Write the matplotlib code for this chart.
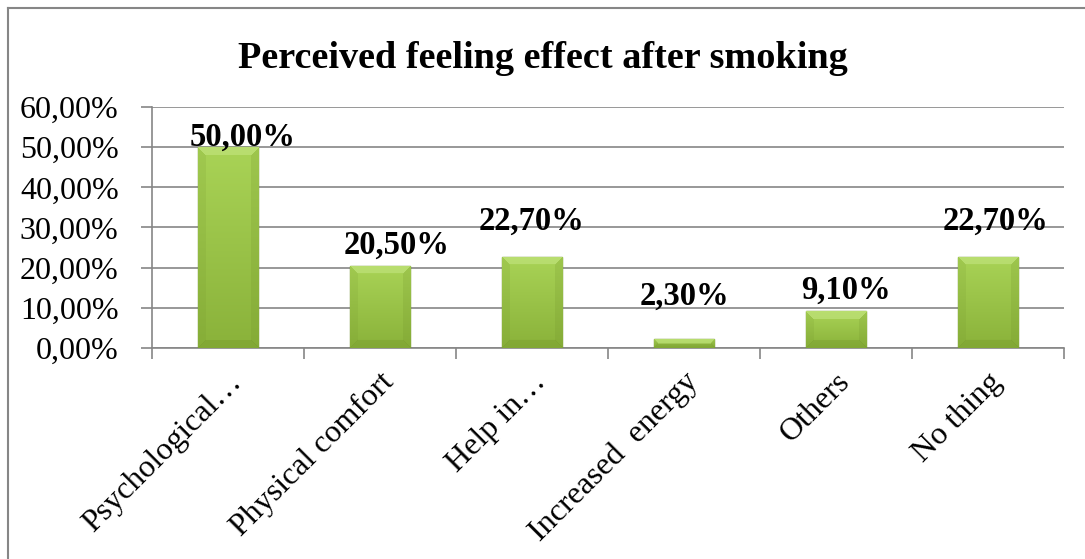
import matplotlib
matplotlib.use("Agg")
import matplotlib.pyplot as plt
import numpy as np
from matplotlib.colors import to_rgb

categories = ["Psychological\u2026", "Physical comfort", "Help in\u2026",
              "Increased  energy", "Others", "No thing"]
values = [50.0, 20.5, 22.7, 2.3, 9.1, 22.7]
labels = ["50,00%", "20,50%", "22,70%", "2,30%", "9,10%", "22,70%"]
yticks = [0, 10, 20, 30, 40, 50, 60]
ytick_labels = ["0,00%", "10,00%", "20,00%", "30,00%", "40,00%", "50,00%", "60,00%"]

# label nudges in pixels (dx, dy of label centre above bar top)
nudges = [(15, 10), (17, 20), (0, 36), (0, 42), (10, 21), (8, 36)]

W, H, DPI = 1085, 559, 100
plt.rcParams['font.family'] = ['Liberation Serif', 'DejaVu Serif']

fig = plt.figure(figsize=(W / DPI, H / DPI), dpi=DPI)
ax = fig.add_axes([152 / W, (H - 348) / H, 912 / W, 241 / H])

x = np.arange(len(values))
bw = 0.4
bars = ax.bar(x, values, width=bw, color="#98c046", edgecolor="#6b8c2a",
              linewidth=1.0, zorder=3)

ax.set_xlim(-0.5, len(values) - 0.5)
ax.set_ylim(0, 60)


def bar_image(hp, wp):
    top = np.array(to_rgb("#a9d356"))
    bot = np.array(to_rgb("#8ab23a"))
    t = np.linspace(0, 1, hp)[:, None, None]
    img = top * (1 - t) + bot * t
    img = np.broadcast_to(img, (hp, wp, 3)).copy()
    b = 8
    ii, jj = np.mgrid[0:hp, 0:wp]
    dt, db = ii, hp - 1 - ii
    dl, dr = jj, wp - 1 - jj
    dmin = np.minimum(np.minimum(dt, db), np.minimum(dl, dr))
    m = dmin < b
    light = np.array(to_rgb("#bfe27a"))
    dark = np.array(to_rgb("#6f9129"))
    img[m & (dt == dmin)] = img[m & (dt == dmin)] * 0.3 + light * 0.7
    sel = m & (dl == dmin) & (dt != dmin)
    img[sel] = img[sel] * 0.85 + dark * 0.15
    sel = m & (dr == dmin) & (dt != dmin)
    img[sel] = img[sel] * 0.8 + dark * 0.2
    sel = m & (db == dmin) & (dt != dmin)
    img[sel] = img[sel] * 0.7 + dark * 0.3
    return img


px_per_unit = 241 / 60.0
for rect, v in zip(bars, values):
    hp = max(int(round(v * px_per_unit)), 2)
    wp = int(round(bw * 152))
    img = bar_image(hp, wp)
    x0 = rect.get_x()
    im = ax.imshow(img, extent=[x0, x0 + bw, 0, v], aspect="auto",
                   zorder=3, interpolation="bilinear")
    im.set_clip_path(rect)

ax.set_xlim(-0.5, len(values) - 0.5)
ax.set_ylim(0, 60)

for xi, v, lab, (dx, dy) in zip(x, values, labels, nudges):
    ax.annotate(lab, (xi, v), xytext=(dx * 0.72, dy * 0.72),
                textcoords="offset points", ha="center", va="center",
                fontsize=23.5, fontweight="bold", zorder=5)

ax.set_yticks(yticks)
ax.set_yticklabels(ytick_labels, fontsize=23)
ax.yaxis.grid(True, color="#868686", linewidth=1.2, zorder=0)
ax.set_axisbelow(True)

ax.set_xticks(np.arange(len(values) + 1) - 0.5)
ax.set_xticklabels([])
ax.set_xticks(x, minor=True)
ax.set_xticklabels(categories, minor=True, rotation=45, ha="right",
                   rotation_mode="anchor", fontsize=23)
ax.tick_params(axis="x", which="minor", length=0, pad=14)
ax.tick_params(axis="x", which="major", length=8, color="#868686", width=1.2)
ax.tick_params(axis="y", length=8, color="#868686", width=1.2, pad=16)
for lab in ax.get_yticklabels():
    lab.set_horizontalalignment("right")

for s in ["top", "right"]:
    ax.spines[s].set_visible(False)
for s in ["left", "bottom"]:
    ax.spines[s].set_color("#868686")
    ax.spines[s].set_linewidth(1.2)

for lab in ax.get_xticklabels(minor=True):
    lab.set_transform(lab.get_transform() +
                      matplotlib.transforms.ScaledTranslation(-1 / DPI, 0, fig.dpi_scale_trans))

fig.text(543 / W, 1 - 59 / H, "Perceived feeling effect after smoking",
         ha="center", va="center", fontsize=27.5, fontweight="bold")

# outer chart border (left and top visible)
fig.add_artist(plt.Line2D([8 / W, 8 / W], [0, 1 - 8 / H], color="#868686",
                          linewidth=1.5, transform=fig.transFigure))
fig.add_artist(plt.Line2D([8 / W, 1], [1 - 8 / H, 1 - 8 / H], color="#868686",
                          linewidth=1.5, transform=fig.transFigure))

fig.savefig("out.png", dpi=DPI)
